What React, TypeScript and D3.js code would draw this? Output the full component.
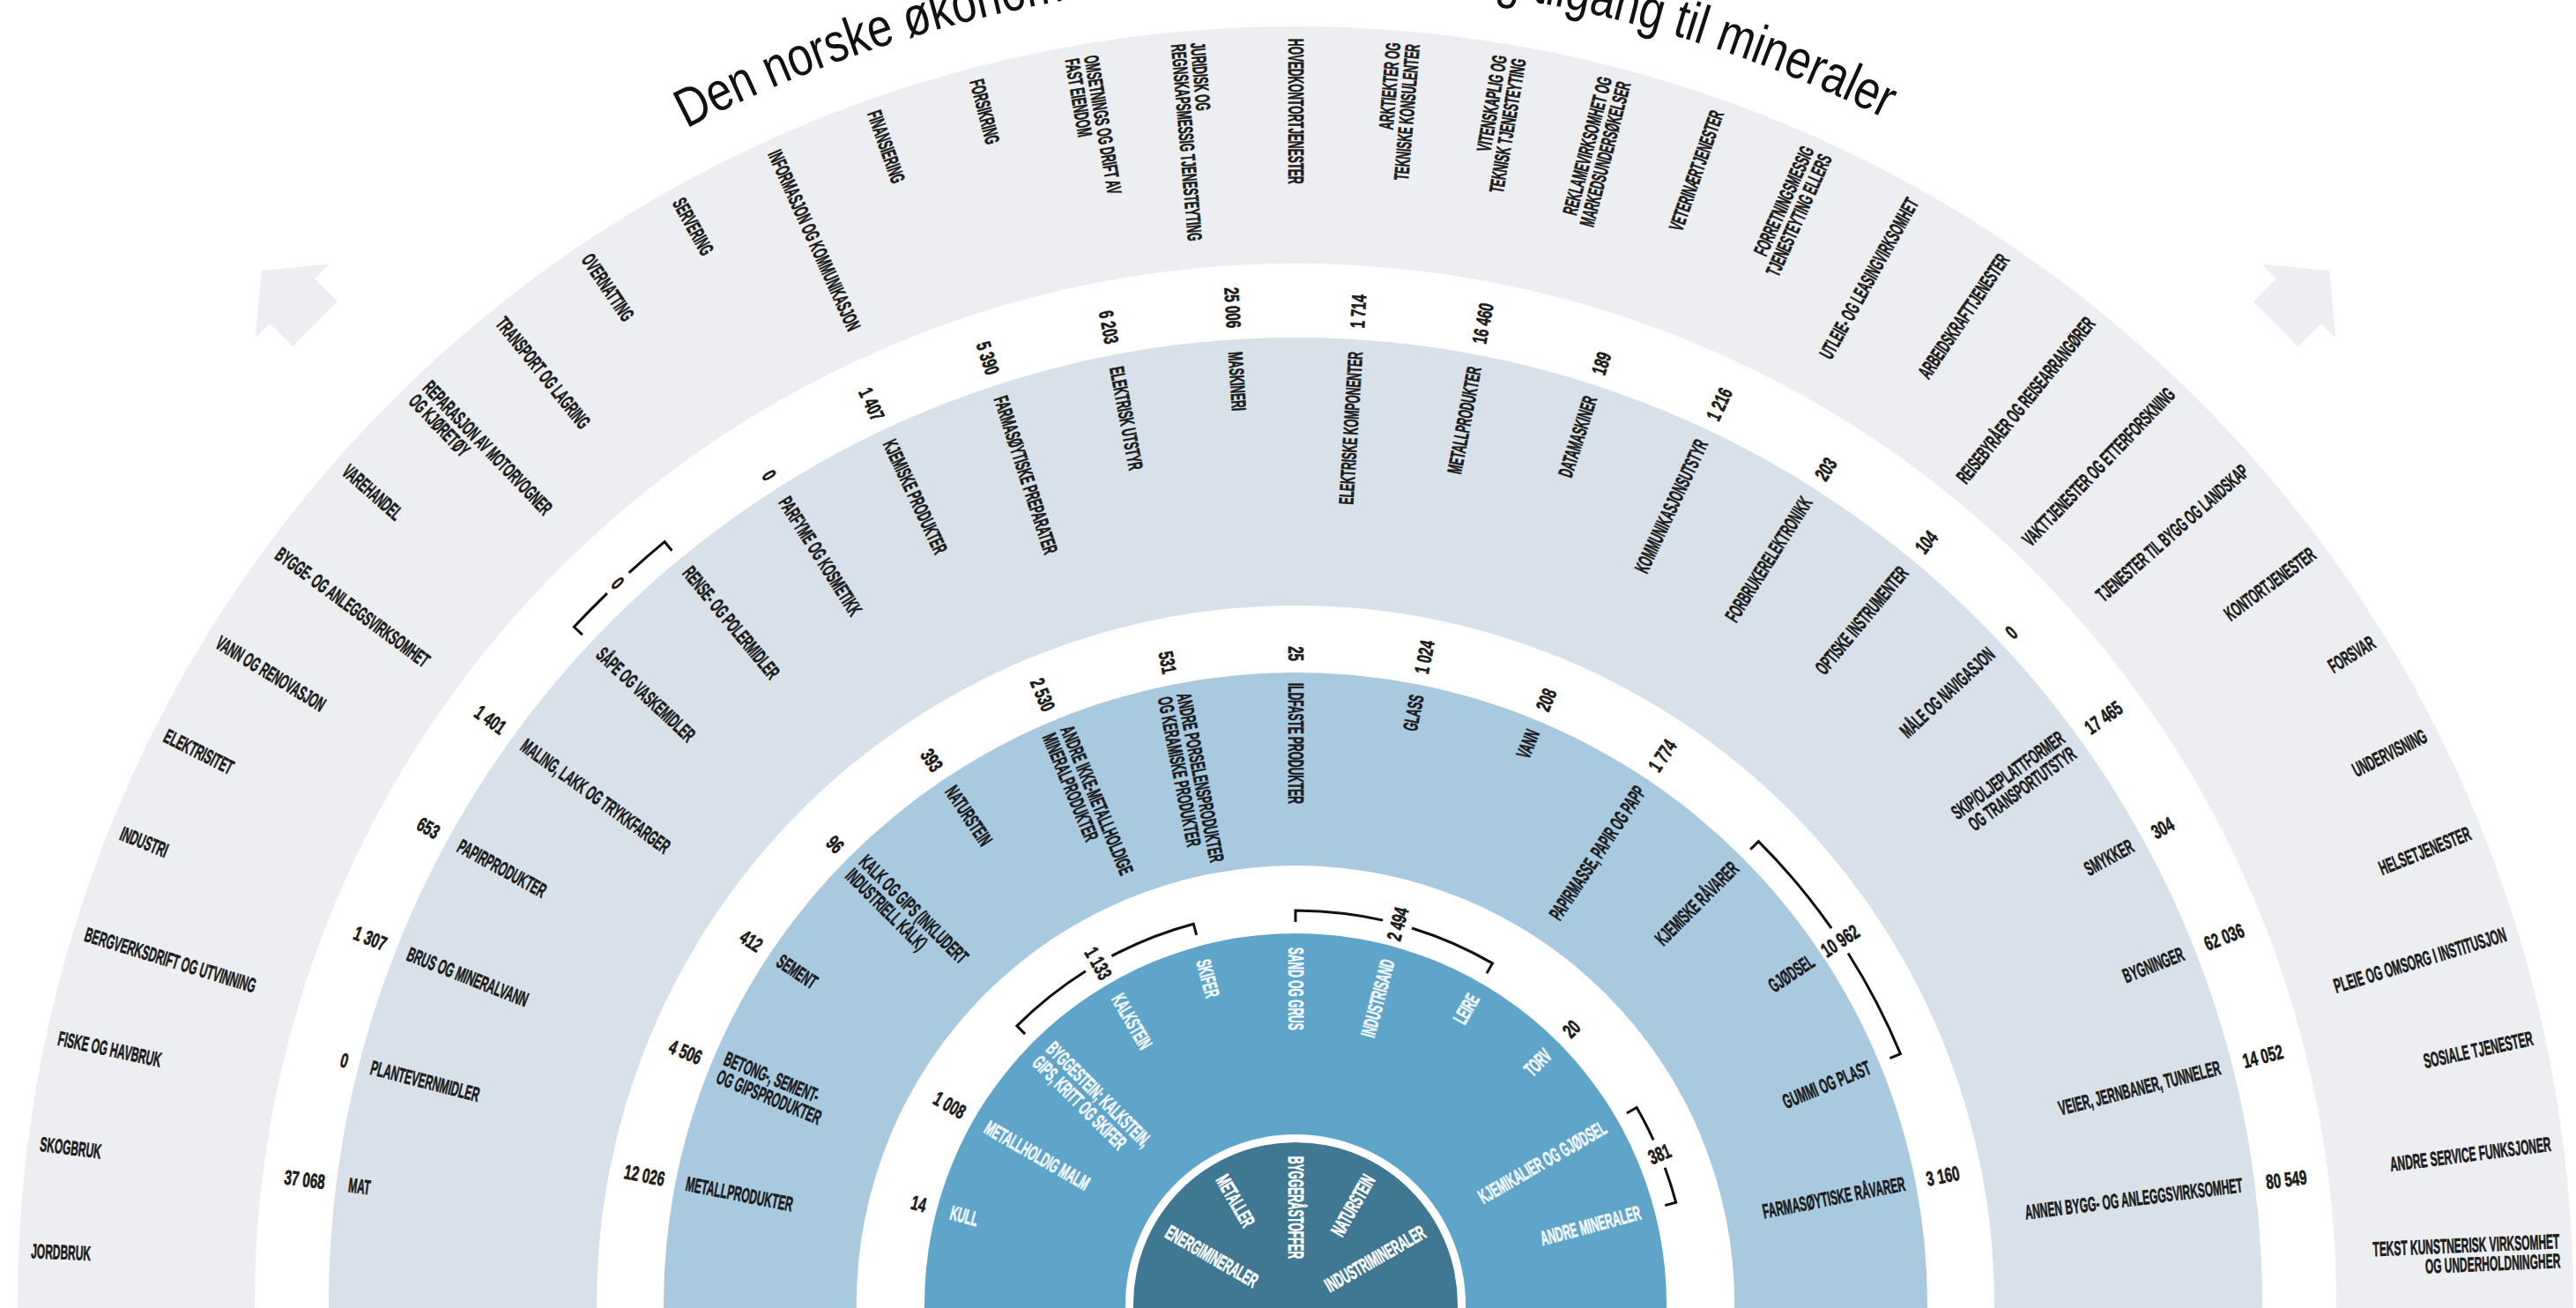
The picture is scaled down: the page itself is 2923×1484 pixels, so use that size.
import * as d3 from "d3";

// canvas + geometry
const WIDTH = 2923;
const HEIGHT = 1484;
const CX = 1470;
const CY = 1480;

const titleText = "Den norske økonomiens avhengighet av og tilgang til mineraler";

// innermost ring: mineral groups
const ring1Labels = ["ENERGIMINERALER", "METALLER", "BYGGERÅSTOFFER", "NATURSTEIN", "INDUSTRIMINERALER"];

// ring 2: minerals
const ring2Labels = [
  "KULL",
  "METALLHOLDIG MALM",
  "BYGGESTEIN; KALKSTEIN,\nGIPS, KRITT OG SKIFER",
  "KALKSTEIN",
  "SKIFER",
  "SAND OG GRUS",
  "INDUSTRISAND",
  "LEIRE",
  "TORV",
  "KJEMIKALIER OG GJØDSEL",
  "ANDRE MINERALER",
];
const ring2Values = [14, 1008, null, null, null, null, null, null, 20, null, null];
const ring2Groups = [
  [2, 4, 1133],
  [5, 7, 2494],
  [9, 10, 381],
];

// ring 3: mineral products
const ring3Labels = [
  "METALLPRODUKTER",
  "BETONG-, SEMENT-\nOG GIPSPRODUKTER",
  "SEMENT",
  "KALK OG GIPS (INKLUDERT\nINDUSTRIELL KALK)",
  "NATURSTEIN",
  "ANDRE IKKE-METALLHOLDIGE\nMINERALPRODUKTER",
  "ANDRE PORSELENSPRODUKTER\nOG KERAMISKE PRODUKTER",
  "ILDFASTE PRODUKTER",
  "GLASS",
  "VANN",
  "PAPIRMASSE, PAPIR OG PAPP",
  "KJEMISKE RÅVARER",
  "GJØDSEL",
  "GUMMI OG PLAST",
  "FARMASØYTISKE RÅVARER",
];
const ring3Values = [12026, 4506, 412, 96, 393, 2530, 531, 25, 1024, 208, 1774, null, null, null, 3160];
const ring3Groups = [[11, 13, 10962]];

// ring 4: goods
const ring4Labels = [
  "MAT",
  "PLANTEVERNMIDLER",
  "BRUS OG MINERALVANN",
  "PAPIRPRODUKTER",
  "MALING, LAKK OG TRYKKFARGER",
  "SÅPE OG VASKEMIDLER",
  "RENSE- OG POLERMIDLER",
  "PARFYME OG KOSMETIKK",
  "KJEMISKE PRODUKTER",
  "FARMASØYTISKE PREPARATER",
  "ELEKTRISK UTSTYR",
  "MASKINERI",
  "ELEKTRISKE KOMPONENTER",
  "METALLPRODUKTER",
  "DATAMASKINER",
  "KOMMUNIKASJONSUTSTYR",
  "FORBRUKERELEKTRONIKK",
  "OPTISKE INSTRUMENTER",
  "MÅLE OG NAVIGASJON",
  "SKIP/OLJEPLATTFORMER\nOG TRANSPORTUTSTYR",
  "SMYKKER",
  "BYGNINGER",
  "VEIER, JERNBANER, TUNNELER",
  "ANNEN BYGG- OG ANLEGGSVIRKSOMHET",
];
const ring4Values = [
  37068, 0, 1307, 653, 1401, null, null, 0, 1407, 5390, 6203, 25006, 1714, 16460, 189, 1216, 203, 104, 0, 17465,
  304, 62036, 14052, 80549,
];
const ring4Groups = [[5, 6, 0]];

// outer ring: industries
const ring5Labels = [
  "JORDBRUK",
  "SKOGBRUK",
  "FISKE OG HAVBRUK",
  "BERGVERKSDRIFT OG UTVINNING",
  "INDUSTRI",
  "ELEKTRISITET",
  "VANN OG RENOVASJON",
  "BYGGE- OG ANLEGGSVIRKSOMHET",
  "VAREHANDEL",
  "REPARASJON AV MOTORVOGNER\nOG KJØRETØY",
  "TRANSPORT OG LAGRING",
  "OVERNATTING",
  "SERVERING",
  "INFORMASJON OG KOMMUNIKASJON",
  "FINANSIERING",
  "FORSIKRING",
  "OMSETNINGS OG DRIFT AV\nFAST EIENDOM",
  "JURIDISK OG\nREGNSKAPSMESSIG TJENESTEYTING",
  "HOVEDKONTORTJENESTER",
  "ARKTIEKTER OG\nTEKNISKE KONSULENTER",
  "VITENSKAPLIG OG\nTEKNISK TJENESTEYTING",
  "REKLAMEVIRKSOMHET OG\nMARKEDSUNDERSØKELSER",
  "VETERINÆRTJENESTER",
  "FORRETNINGSMESSIG\nTJENESTEYTING ELLERS",
  "UTLEIE- OG LEASINGVIRKSOMHET",
  "ARBEIDSKRAFTTJENESTER",
  "REISEBYRÅER OG REISEARRANGØRER",
  "VAKTTJENESTER OG ETTERFORSKNING",
  "TJENESTER TIL BYGG OG LANDSKAP",
  "KONTORTJENESTER",
  "FORSVAR",
  "UNDERVISNING",
  "HELSETJENESTER",
  "PLEIE OG OMSORG I INSTITUSJON",
  "SOSIALE TJENESTER",
  "ANDRE SERVICE FUNKSJONER",
  "TEKST KUNSTNERISK VIRKSOMHET\nOG UNDERHOLDNINGHER",
];

const rings = [
  { labels: ring1Labels, values: null, groups: [], inner: 0, outer: 184, fill: "#407893", ink: "#ffffff", padding: 1, pad: 16 },
  { labels: ring2Labels, values: ring2Values, groups: ring2Groups, inner: 193, outer: 421, fill: "#5fa5ca", ink: "#f3f8fb", padding: 1, pad: 16 },
  { labels: ring3Labels, values: ring3Values, groups: ring3Groups, inner: 498, outer: 717, fill: "#a9c9df", ink: "#1c1c1c", padding: 1, pad: 12 },
  { labels: ring4Labels, values: ring4Values, groups: ring4Groups, inner: 793, outer: 1097, fill: "#d8e1e9", ink: "#1c1c1c", padding: 1, pad: 14 },
  { labels: ring5Labels, values: null, groups: [], inner: 1181, outer: 1450, fill: "#eceef1", ink: "#1c1c1c", padding: 0.5, pad: 14 },
];

const FONT = "'Liberation Sans', Arial, sans-serif";
const FONT_SIZE = 23;
const LINE_H = 22;
const SX_LABEL = 0.52;
const SX_NUM = 0.66;
const NUM_GAP = 13;
const BRACKET_OFF = 26;
const BRACKET_TICK = 13;
const BRACKET_GAP = 17;

// title arc: baseline radius and angular span (deg from vertical)
const TITLE_R = 1503;
const TITLE_START = -27.4;
const TITLE_END = 26.4;

const fmt = d3
  .formatLocale({ decimal: ",", thousands: " ", grouping: [3], currency: ["", ""] })
  .format(",d");

// angle in degrees: 0 = left horizontal, 90 = top, 180 = right
function polar(r: number, deg: number): [number, number] {
  const a = (deg * Math.PI) / 180;
  return [CX - r * Math.cos(a), CY - r * Math.sin(a)];
}

function radialText(
  key: string,
  deg: number,
  r: number,
  text: string,
  role: "label" | "number" | "mid",
  fill: string,
  sx: number
) {
  const left = deg <= 90.001;
  const rot = left ? deg : deg - 180;
  const anchor = role === "mid" ? "middle" : (role === "label") === left ? "start" : "end";
  const [x, y] = polar(r, deg);
  const lines = text.split("\n");
  return (
    <g key={key} transform={`translate(${x},${y}) rotate(${rot}) scale(${sx},1)`}>
      {lines.map((ln, i) => (
        <text
          key={i}
          x={0}
          y={(i - (lines.length - 1) / 2) * LINE_H}
          textAnchor={anchor}
          dominantBaseline="central"
          fill={fill}
          stroke={fill}
          strokeWidth={0.7}
        >
          {ln}
        </text>
      ))}
    </g>
  );
}

function bracketPath(r: number, t0: number, t1: number) {
  const phi = (deg: number) => ((deg + 180) * Math.PI) / 180;
  const mid = (t0 + t1) / 2;
  const gap = ((BRACKET_GAP / r) * 180) / Math.PI;
  const p = d3.path();
  const [ax, ay] = polar(r - BRACKET_TICK, t0);
  const [bx, by] = polar(r, t0);
  p.moveTo(ax, ay);
  p.lineTo(bx, by);
  p.arc(CX, CY, r, phi(t0), phi(mid - gap), false);
  const [cx2, cy2] = polar(r, mid + gap);
  p.moveTo(cx2, cy2);
  p.arc(CX, CY, r, phi(mid + gap), phi(t1), false);
  const [dx, dy] = polar(r - BRACKET_TICK, t1);
  p.lineTo(dx, dy);
  return p.toString();
}

// block arrow, pointing up, tip at origin
const arrowShape = "M0,0 L59,49 L36,49 L36,86 L-36,86 L-36,49 L-59,49 Z";

export default function App() {
  const arcGen = d3.arc<any>();
  const rad = Math.PI / 180;
  const titleStartOffset = TITLE_R * (90 + TITLE_START) * rad;
  const titleLength = TITLE_R * (TITLE_END - TITLE_START) * rad;

  return (
    <div>
      <style>{`body{margin:0;background:#fff}`}</style>
      <svg width={WIDTH} height={HEIGHT} style={{ display: "block" }}>
        <rect width={WIDTH} height={HEIGHT} fill="#ffffff" />

        {[45, 135].map((deg) => {
          const [x, y] = polar(1659, deg);
          return (
            <path
              key={deg}
              d={arrowShape}
              fill="#eceef1"
              transform={`translate(${x},${y}) rotate(${deg - 90})`}
            />
          );
        })}

        {rings.map((ring, ri) => (
          <path
            key={`ring${ri}`}
            d={
              arcGen({
                innerRadius: ring.inner,
                outerRadius: ring.outer,
                startAngle: 0,
                endAngle: 2 * Math.PI,
              }) as string
            }
            transform={`translate(${CX},${CY})`}
            fill={ring.fill}
          />
        ))}

        <defs>
          <path
            id="titleArc"
            d={`M${CX - TITLE_R},${CY} A${TITLE_R},${TITLE_R} 0 0 1 ${CX + TITLE_R},${CY}`}
          />
        </defs>
        <text fontFamily={FONT} fontSize={62} fill="#111111">
          <textPath
            href="#titleArc"
            startOffset={titleStartOffset}
            textLength={titleLength}
            lengthAdjust="spacingAndGlyphs"
          >
            {titleText}
          </textPath>
        </text>

        <g fontFamily={FONT} fontSize={FONT_SIZE} fontWeight={700}>
          {rings.map((ring, ri) => {
            const n = ring.labels.length;
            const angle = d3.scalePoint<number>().domain(d3.range(n)).range([0, 180]).padding(ring.padding);
            const out: any[] = [];
            ring.labels.forEach((lab, i) => {
              const deg = angle(i) as number;
              out.push(radialText(`l${ri}-${i}`, deg, ring.outer - ring.pad, lab, "label", ring.ink, SX_LABEL));
              const v = ring.values ? ring.values[i] : null;
              if (v !== null && v !== undefined) {
                out.push(radialText(`v${ri}-${i}`, deg, ring.outer + NUM_GAP, fmt(v), "number", "#1c1c1c", SX_NUM));
              }
            });
            ring.groups.forEach((g, gi) => {
              const t0 = angle(g[0]) as number;
              const t1 = angle(g[1]) as number;
              const rb = ring.outer + BRACKET_OFF;
              out.push(
                <path
                  key={`b${ri}-${gi}`}
                  d={bracketPath(rb, t0, t1)}
                  fill="none"
                  stroke="#111111"
                  strokeWidth={3}
                />
              );
              out.push(radialText(`bv${ri}-${gi}`, (t0 + t1) / 2, rb, fmt(g[2]), "mid", "#1c1c1c", SX_NUM));
            });
            return <g key={`txt${ri}`}>{out}</g>;
          })}
        </g>
      </svg>
    </div>
  );
}
